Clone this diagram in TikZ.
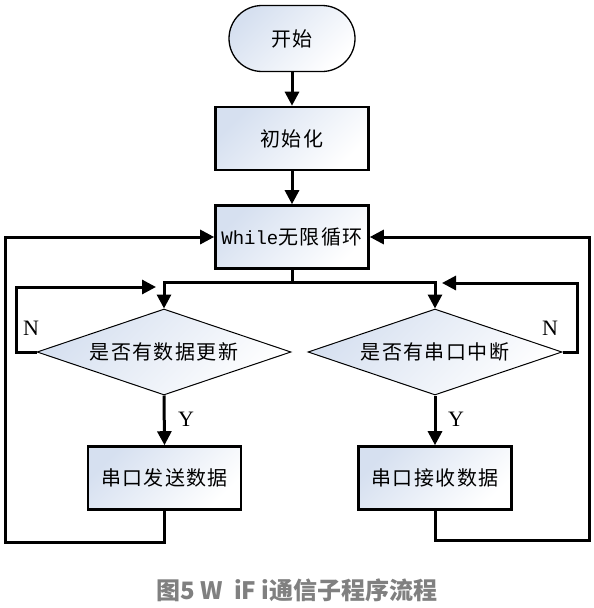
\documentclass[tikz,border=0pt]{standalone}
\usepackage{fontspec}
\newfontfamily\cjk[LetterSpace=7]{Noto Sans CJK SC}
\newfontfamily\cjkcap{Noto Sans CJK SC}
\newfontfamily\lmono{Liberation Mono}
\newfontfamily\lserif{Liberation Serif}
\usetikzlibrary{shapes.geometric,arrows.meta}
\definecolor{fillA}{RGB}{214,224,240}
\definecolor{capgray}{RGB}{128,128,128}
\begin{document}
\begin{tikzpicture}[x=1pt,y=-1pt,
  shadebox/.style={shading=axis,left color=fillA,right color=white,shading angle=45},
  procbox/.style={draw,line width=2.6pt,shadebox,minimum width=153pt,minimum height=63pt,inner sep=0pt,font=\cjk\fontsize{20}{20}\selectfont},
  termbox/.style={draw,line width=1.3pt,shadebox,rounded corners=33pt,minimum width=126pt,minimum height=66pt,inner sep=0pt,font=\cjk\fontsize{20}{20}\selectfont},
  decbox/.style={draw,line width=1pt,diamond,aspect=2.95,shadebox,minimum width=254pt,minimum height=86pt,inner sep=0pt,font=\cjk\fontsize{20}{20}\selectfont},
  conn/.style={line width=3pt},
  arr/.style={conn,-{Triangle[length=14pt,width=14pt]}},
  yn/.style={font=\lserif\fontsize{22}{22}\selectfont,inner sep=0pt}
  ]
\useasboundingbox (0,0) rectangle (594,608);
\node[termbox] (start) at (292,38.5) {开始};
\node[procbox] (init) at (292,138.5) {初始化};
\node[procbox] (loop) at (292,237) {{\lmono\fontsize{19}{19}\selectfont While}无限循环};
\node[decbox] (d1) at (164,352) {是否有数据更新};
\node[decbox] (d2) at (435,352) {是否有串口中断};
\node[procbox] (b1) at (164.5,478) {串口发送数据};
\node[procbox] (b2) at (435,478) {串口接收数据};
% main flow
\draw[arr] (start) -- (init);
\draw[arr] (init) -- (loop);
\coordinate (split) at (292,282);
\draw[conn] (loop.south) -- (split);
\draw[arr] (split) -| (d1.north);
\draw[arr] (split) -| (d2.north);
% N loops
\coordinate (nlc) at (16,287);
\coordinate (nl) at (156,287);
\draw[arr] (d1.west) -| (nlc) -- (nl);
\coordinate (nrc) at (577,283);
\coordinate (nr) at (442,283);
\draw[arr] (d2.east) -| (nrc) -- (nr);
\node[yn] (n1) at (31,328) {N};
\node[yn] (n2) at (550,328) {N};
% Y branches
\draw[arr] (d1.south) -- (b1.north);
\draw[arr] (d2.south) -- (b2.north);
\node[yn] (y1) at (186,419) {Y};
\node[yn] (y2) at (456,419) {Y};
% return loops
\coordinate (lc) at (5,542);
\draw[arr] (b1.south) |- (lc) |- (loop.west);
\coordinate (rc) at (589,540);
\draw[arr] (b2.south) |- (rc) |- (loop.east);
% caption
\node[font=\cjkcap\bfseries\fontsize{24}{24}\selectfont,text=capgray,inner sep=0pt] (cap) at (297,590) {图5 W\ \ iF i通信子程序流程};
\end{tikzpicture}
\end{document}
